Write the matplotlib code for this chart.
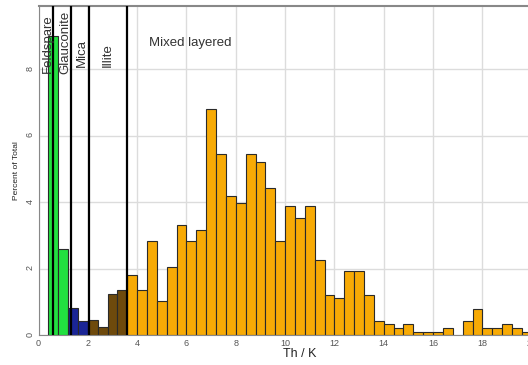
import matplotlib
matplotlib.use("Agg")
import matplotlib.pyplot as plt

plt.rcParams["font.family"] = ["Liberation Sans", "DejaVu Sans"]

# histogram bins (left edge of Th/K class) and percent of total, per colour group
green_left = [0.4, 0.8]
green_pct = [9.0, 2.6]
blue_left = [1.2, 1.6]
blue_pct = [0.8, 0.43]
brown_left = [2.0, 2.4, 2.8, 3.2]
brown_pct = [0.45, 0.23, 1.23, 1.35]
orange_left = [3.6, 4.0, 4.4, 4.8, 5.2, 5.6, 6.0, 6.4, 6.8, 7.2, 7.6, 8.0,
               8.4, 8.8, 9.2, 9.6, 10.0, 10.4, 10.8, 11.2, 11.6, 12.0, 12.4,
               12.8, 13.2, 13.6, 14.0, 14.4, 14.8, 15.2, 15.6, 16.0, 16.4,
               17.2, 17.6, 18.0, 18.4, 18.8, 19.2, 19.6]
orange_pct = [1.8, 1.35, 2.83, 1.02, 2.05, 3.3, 2.82, 3.17, 6.82, 5.44, 4.2,
              3.99, 5.44, 5.22, 4.42, 2.82, 3.88, 3.51, 3.88, 2.26, 1.2, 1.12,
              1.92, 1.92, 1.2, 0.42, 0.32, 0.2, 0.32, 0.08, 0.08, 0.08, 0.2,
              0.42, 0.79, 0.2, 0.2, 0.32, 0.2, 0.08]
bin_w = 0.4

# mineral boundaries and labels
bounds = [0.6, 1.3, 2.05, 3.6]
labels = ["Feldspare", "Glauconite", "Mica", "Illite"]
label_x = [0.38, 1.08, 1.75, 2.8]
label_top = [9.65, 9.75, 8.9, 8.8]

fig = plt.figure(figsize=(5.28, 3.65), dpi=100)
ax = fig.add_axes([0.073, 0.082, 0.99, 0.901])

for left, pct, col in [(green_left, green_pct, "#22e040"),
                       (blue_left, blue_pct, "#1a2596"),
                       (brown_left, brown_pct, "#6e4a0c"),
                       (orange_left, orange_pct, "#f7aa05")]:
    ax.bar(left, pct, width=bin_w, align="edge", color=col,
           edgecolor="#2a2a2a", linewidth=0.8, zorder=2)

for b in bounds:
    ax.axvline(b, color="black", lw=1.6, zorder=3)

for lab, x, y in zip(labels, label_x, label_top):
    ax.text(x, y, lab, rotation=90, ha="center", va="top", fontsize=9.5,
            color="#333333", zorder=4)
ax.text(4.5, 8.8, "Mixed layered", ha="left", va="center", fontsize=9.5,
        color="#333333", zorder=4)

ax.set_xlim(0, 21.2)
ax.set_ylim(0, 9.9)
ax.set_xticks(range(0, 21, 2))
ax.set_yticks(range(0, 10, 2))
ax.grid(True, color="#dcdcdc", lw=1.0, zorder=0)
ax.set_axisbelow(True)
ax.tick_params(labelsize=6.5, length=0, colors="#555555", pad=3)
ax.tick_params(axis="y", labelrotation=90)
for s in ax.spines.values():
    s.set_color("#888888")
ax.spines["top"].set_linewidth(1.5)

ax.set_xlabel("Th / K", fontsize=9, labelpad=0, color="#222222")
ax.set_ylabel("Percent of Total", fontsize=6, labelpad=4, color="#222222")

fig.savefig("out.png", dpi=100)
